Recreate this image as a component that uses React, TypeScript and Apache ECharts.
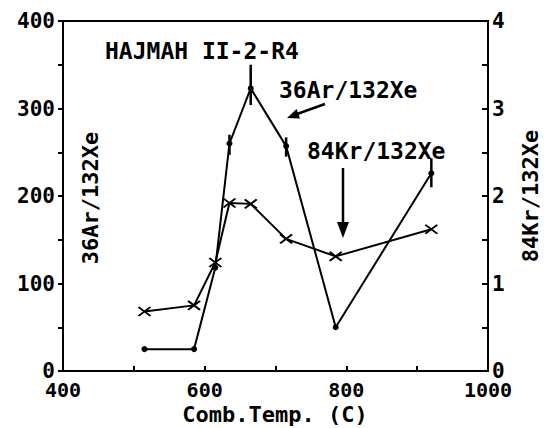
import React, { useEffect, useRef } from "react";
import * as echarts from "echarts";

const temps = [515, 585, 615, 635, 665, 715, 785, 920];
const arXe = [25, 25, 118, 260, 323, 257, 50, 226];
const krXe = [0.68, 0.75, 1.24, 1.92, 1.91, 1.51, 1.31, 1.62];
const errTemps = [635, 665, 715, 920];
const errLow = [247, 304, 245, 210];
const errHigh = [270, 350, 267, 243];
const titleText = "HAJMAH II-2-R4";
const arName = "36Ar/132Xe";
const krName = "84Kr/132Xe";
const xName = "Comb.Temp. (C)";

const FONT = "DejaVu Sans Mono";

export default function App() {
  const ref = useRef<HTMLDivElement>(null);
  useEffect(() => {
    if (!ref.current) return;
    const chart = echarts.init(ref.current, null, { renderer: "svg" });
    const axisText = { fontFamily: FONT, fontWeight: "bold" as const, fontSize: 21, color: "#000", lineHeight: 16 };
    const lineStyle = { color: "#000", width: 2 };
    chart.setOption({
      animation: false,
      backgroundColor: "#fff",
      grid: {
        left: 63, right: 56, top: 21, bottom: 57,
        containLabel: false,
        outerBoundsMode: "none",
        show: true, borderColor: "#000", borderWidth: 2, backgroundColor: "transparent",
      },
      title: {
        text: titleText,
        left: 100,
        top: 34,
        textStyle: { fontFamily: FONT, fontWeight: "bold", fontSize: 23, color: "#000" },
      },
      xAxis: {
        type: "value",
        min: 400,
        max: 1000,
        interval: 100,
        axisLine: { lineStyle },
        axisTick: { inside: true, length: 5, lineStyle },
        splitLine: { show: false },
        axisLabel: {
          ...axisText,
          fontSize: 20,
          margin: 11,
          formatter: (v: number) => (v % 200 === 0 ? String(v) : ""),
        },
      },
      yAxis: [
        {
          type: "value",
          min: 0,
          max: 400,
          interval: 50,
          axisLine: { show: true, lineStyle },
          axisTick: { length: 5, lineStyle },
          splitLine: { show: false },
          axisLabel: {
            ...axisText,
            margin: 8,
            formatter: (v: number) => (v % 100 === 0 ? String(v) : ""),
          },
        },
        {
          type: "value",
          min: 0,
          max: 4,
          interval: 0.5,
          position: "right",
          name: krName,
          nameLocation: "middle",
          nameGap: 31,
          nameRotate: 90,
          nameTextStyle: { fontFamily: FONT, fontWeight: "bold", fontSize: 22, color: "#000" },
          axisLine: { show: true, lineStyle },
          axisTick: { inside: true, length: 6, lineStyle },
          splitLine: { show: false },
          axisLabel: {
            ...axisText,
            margin: 4,
            formatter: (v: number) => (Math.abs(v - Math.round(v)) < 1e-6 ? String(Math.round(v)) : ""),
          },
        },
      ],
      graphic: [
        {
          type: "text",
          x: 90,
          y: 198,
          rotation: Math.PI / 2,
          style: { text: arName, font: `bold 22px "${FONT}"`, fill: "#000", align: "center", verticalAlign: "middle" },
        },
        {
          type: "text",
          x: 275,
          y: 414,
          style: { text: xName, font: `bold 22px "${FONT}"`, fill: "#000", align: "center", verticalAlign: "middle" },
        },
        {
          type: "text",
          left: 279,
          top: 78,
          style: { text: arName, font: `bold 23px "${FONT}"`, fill: "#000" },
        },
        {
          type: "text",
          left: 307,
          top: 139,
          style: { text: krName, font: `bold 23px "${FONT}"`, fill: "#000" },
        },
        { type: "line", shape: { x1: 325, y1: 104, x2: 297, y2: 114 }, style: { stroke: "#000", lineWidth: 2.5 } },
        { type: "polygon", shape: { points: [[287, 118], [300, 118.5], [296.6, 109.1]] }, style: { fill: "#000" } },
        { type: "line", shape: { x1: 343, y1: 168, x2: 343, y2: 225 }, style: { stroke: "#000", lineWidth: 2.5 } },
        { type: "polygon", shape: { points: [[343, 238], [337, 222], [349, 222]] }, style: { fill: "#000" } },
      ],
      series: [
        {
          name: arName,
          type: "line",
          yAxisIndex: 0,
          data: temps.map((t, i) => [t, arXe[i]]),
          symbol: "circle",
          symbolSize: 6,
          itemStyle: { color: "#000" },
          lineStyle: { color: "#000", width: 2 },
          z: 3,
        },
        {
          name: krName,
          type: "line",
          yAxisIndex: 1,
          data: temps.map((t, i) => [t, krXe[i]]),
          symbol: "path://M0,0L10,8M10,0L0,8",
          symbolSize: [12, 9],
          itemStyle: { color: "transparent", borderColor: "#000", borderWidth: 2 },
          lineStyle: { color: "#000", width: 2 },
          z: 3,
        },
        {
          type: "custom",
          yAxisIndex: 0,
          data: errTemps.map((t, i) => [t, errLow[i], errHigh[i]]),
          renderItem: (_p: any, api: any) => {
            const x = api.value(0);
            const lo = api.coord([x, api.value(1)]);
            const hi = api.coord([x, api.value(2)]);
            return {
              type: "line",
              shape: { x1: lo[0], y1: lo[1], x2: hi[0], y2: hi[1] },
              style: { stroke: "#000", lineWidth: 2.5 },
            };
          },
          z: 4,
        },
      ],
    });
    return () => chart.dispose();
  }, []);
  return <div ref={ref} style={{ position: "fixed", left: 0, top: 0, width: 544, height: 428 }} />;
}
